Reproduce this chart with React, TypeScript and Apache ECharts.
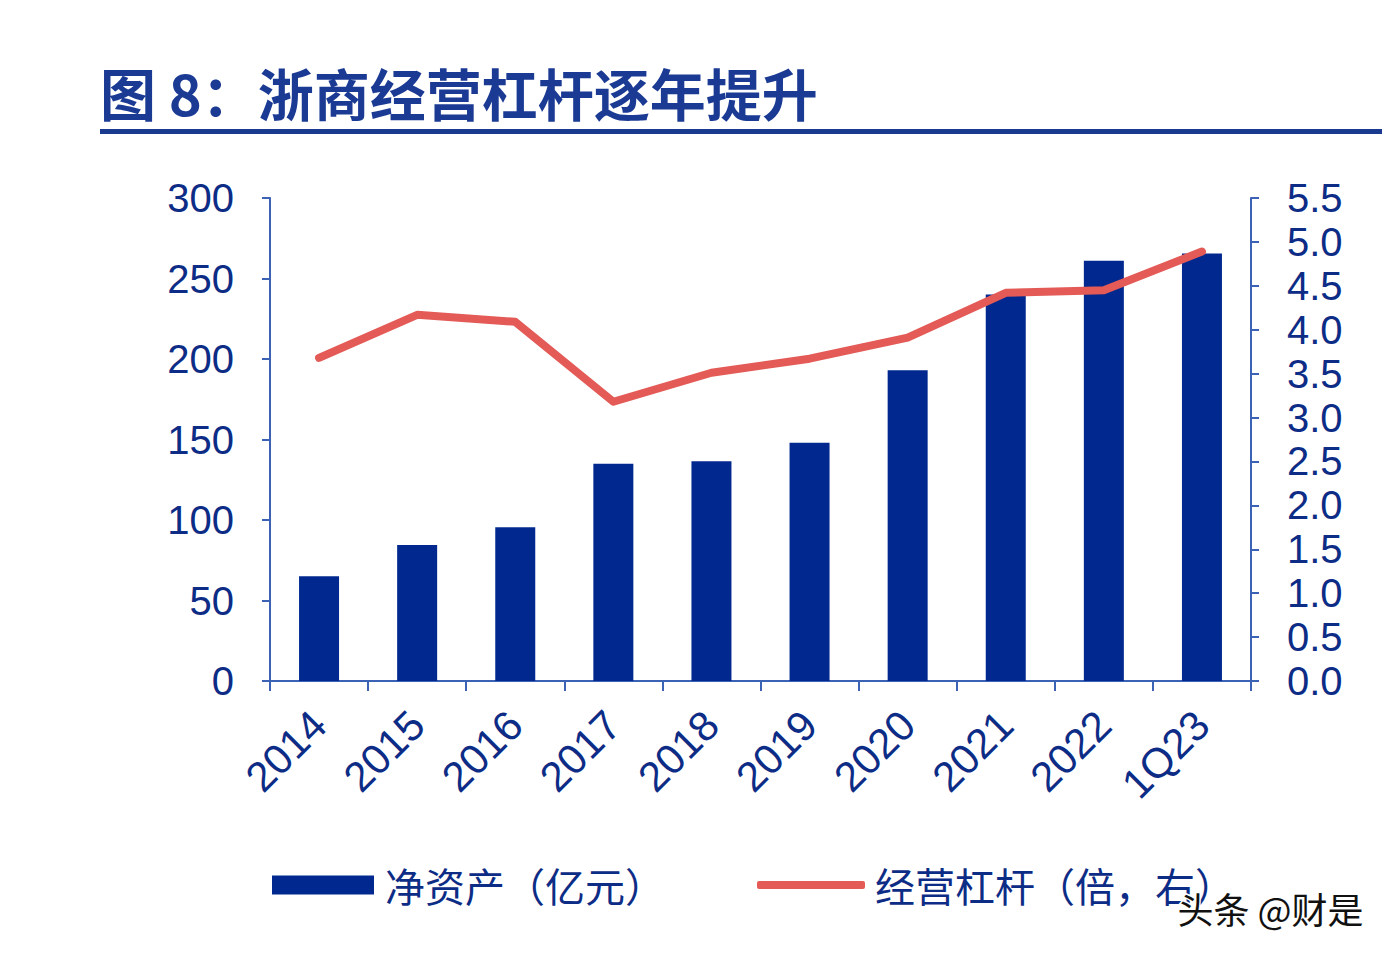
import React, { useEffect, useRef } from "react";
import * as echarts from "echarts";

const categories = ["2014", "2015", "2016", "2017", "2018", "2019", "2020", "2021", "2022", "1Q23"];
const netAssets = [65, 84.5, 95.5, 135, 136.5, 148, 193, 240, 261, 265.5];
const leverage = [3.68, 4.17, 4.09, 3.18, 3.51, 3.67, 3.91, 4.42, 4.45, 4.89];

const TEXT = "#0d2c86";
const AXIS = "#3b62b5";
const BAR = "#00288e";
const LINE = "#e35a56";
const CN = "'Noto Sans CJK SC', 'Liberation Sans', sans-serif";
const NUM = "'Liberation Sans', Arial, sans-serif";

export default function App() {
  const ref = useRef<HTMLDivElement>(null);
  useEffect(() => {
    const chart = echarts.init(ref.current!, null, { renderer: "svg" });
    chart.setOption({
      animation: false,
      backgroundColor: "#ffffff",
      grid: { left: 270, right: 139, top: 198, bottom: 273, containLabel: false },
      legend: [
        {
          data: [{ name: "净资产（亿元）", icon: "rect" }],
          left: 272,
          top: 865,
          padding: 0,
          itemWidth: 102,
          itemHeight: 19,
          textStyle: { fontSize: 40, color: TEXT, fontFamily: CN, padding: [0, 0, 0, 6] },
        },
        {
          data: [{ name: "经营杠杆（倍，右）", icon: "roundRect" }],
          left: 757,
          top: 865,
          padding: 0,
          itemWidth: 108,
          itemHeight: 8,
          textStyle: { fontSize: 40, color: TEXT, fontFamily: CN, padding: [0, 0, 0, 5] },
        },
      ],
      xAxis: {
        type: "category",
        data: categories,
        boundaryGap: true,
        axisLine: { lineStyle: { color: AXIS, width: 2 } },
        axisTick: { show: true, length: 10, lineStyle: { color: AXIS, width: 2 } },
        axisLabel: { rotate: 45, margin: 37, fontSize: 42, color: TEXT, fontFamily: NUM },
      },
      yAxis: [
        {
          type: "value",
          min: 0,
          max: 300,
          interval: 50,
          splitLine: { show: false },
          axisLine: { show: true, lineStyle: { color: AXIS, width: 2 } },
          axisTick: { show: true, length: 8, lineStyle: { color: AXIS, width: 2 } },
          axisLabel: { margin: 36, fontSize: 40, color: TEXT, fontFamily: NUM },
        },
        {
          type: "value",
          min: 0,
          max: 5.5,
          interval: 0.5,
          position: "right",
          splitLine: { show: false },
          axisLine: { show: true, lineStyle: { color: AXIS, width: 2 } },
          axisTick: { show: true, length: 8, lineStyle: { color: AXIS, width: 2 } },
          axisLabel: {
            margin: 36,
            fontSize: 40,
            color: TEXT,
            fontFamily: NUM,
            formatter: (v: number) => v.toFixed(1),
          },
        },
      ],
      series: [
        {
          name: "净资产（亿元）",
          type: "bar",
          data: netAssets,
          barWidth: 40,
          itemStyle: { color: BAR },
        },
        {
          name: "经营杠杆（倍，右）",
          type: "line",
          yAxisIndex: 1,
          data: leverage,
          symbol: "none",
          lineStyle: { color: LINE, width: 8, cap: "round", join: "round" },
          itemStyle: { color: LINE },
        },
      ],
      graphic: [
        {
          type: "text",
          left: 100,
          top: 63,
          style: {
            text: "图 8：浙商经营杠杆逐年提升",
            fontSize: 56,
            fontWeight: "bold",
            fill: "#1b3a94",
            fontFamily: CN,
          },
        },
        {
          type: "rect",
          shape: { x: 100, y: 129, width: 1290, height: 5 },
          style: { fill: "#1a3a8f" },
        },
        {
          type: "text",
          left: 1176,
          top: 888,
          z: 100,
          style: {
            text: "头条 @财是",
            fontSize: 36,
            fill: "#111111",
            fontFamily: CN,
            stroke: "#ffffff",
            lineWidth: 3,
          },
        },
      ],
    });
    return () => chart.dispose();
  }, []);
  return <div ref={ref} style={{ width: 1390, height: 954, margin: -8 }} />;
}
